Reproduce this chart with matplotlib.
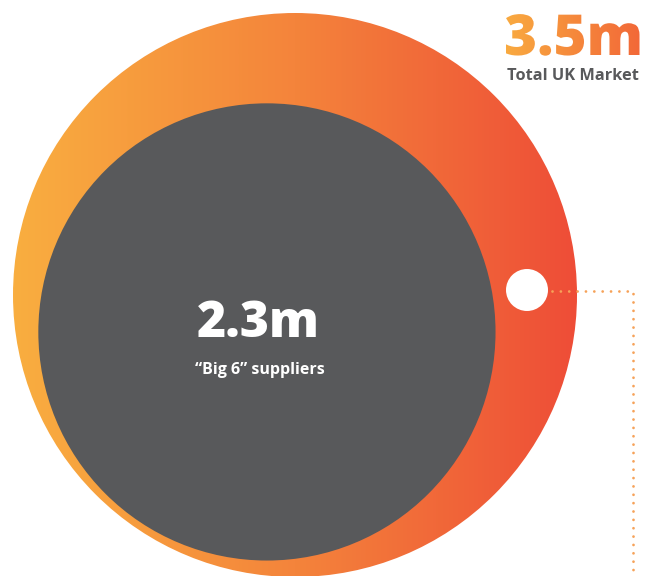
import numpy as np
import matplotlib
matplotlib.use("Agg")
import matplotlib.pyplot as plt
from matplotlib.patches import Circle, PathPatch
from matplotlib.colors import LinearSegmentedColormap
from matplotlib.textpath import TextPath
from matplotlib.font_manager import FontProperties
from matplotlib.transforms import Affine2D

# Customer accounts (millions)
segments = ["Total UK Market", "\u201cBig 6\u201d suppliers"]
accounts_m = [3.5, 2.3]
value_labels = ["3.5m", "2.3m"]

W, H = 652, 576
fig = plt.figure(figsize=(W / 100, H / 100), dpi=100)
ax = fig.add_axes([0, 0, 1, 1])
ax.set_xlim(0, W)
ax.set_ylim(H, 0)
ax.set_aspect("equal")
ax.axis("off")

ORANGE_L = "#F9AE40"
ORANGE_R = "#EE4D37"
GREY = "#58595B"
warm = LinearSegmentedColormap.from_list("warm", [ORANGE_L, "#F4843B", ORANGE_R])

# circle areas proportional to the account counts
scale = 282 / np.sqrt(accounts_m[0])
r_outer = scale * np.sqrt(accounts_m[0])
r_inner = scale * np.sqrt(accounts_m[1])

cx, cy = 295, 295
outer = Circle((cx, cy), r_outer, facecolor="none", edgecolor="none")
ax.add_patch(outer)
grad = np.linspace(0, 1, 512).reshape(1, -1)
im = ax.imshow(grad, cmap=warm, aspect="auto", interpolation="bilinear",
               extent=[cx - r_outer, cx + r_outer, cy + r_outer, cy - r_outer], zorder=1)
im.set_clip_path(outer)

# inner circle nested toward the lower left
d = np.array([-0.605, 0.796])
off = r_outer - r_inner - 7
icx, icy = cx + d[0] * off, cy + d[1] * off
ax.add_patch(Circle((icx, icy), r_inner, facecolor=GREY, edgecolor="none", zorder=2))

# marker and dotted leader
ax.add_patch(Circle((527, 290), 21, facecolor="white", edgecolor="none", zorder=3))
ax.plot([552, 633, 633], [291, 291, H + 5], color="#F6A259", lw=2.0,
        linestyle=(0, (0.01, 3.0)), dash_capstyle="round", zorder=3)

# headline value with gradient fill
fp = FontProperties(family="Open Sans", weight="heavy")
tp = TextPath((0, 0), value_labels[0], size=56.5, prop=fp)
bb = tp.get_extents()
x0, base = 506, 55
tr = Affine2D().translate(-bb.x0, 0).scale(1, -1).translate(x0, base)
tpath = tr.transform_path(tp)
tpatch = PathPatch(tpath, facecolor="none", edgecolor="none")
ax.add_patch(tpatch)
tb = tpath.get_extents()
tim = ax.imshow(grad, cmap=LinearSegmentedColormap.from_list("t", ["#F9AA40", "#F26838"]),
                aspect="auto", interpolation="bilinear",
                extent=[tb.x0, tb.x1, tb.y1, tb.y0], zorder=4)
tim.set_clip_path(tpatch)
ax.set_xlim(0, W)
ax.set_ylim(H, 0)

ax.text(572.5, 76, segments[0], ha="center", va="center", fontsize=11.8,
        fontfamily="Open Sans", fontweight="bold", color=GREY, zorder=4)

ax.text(258, 324, value_labels[1], ha="center", va="center", fontsize=36,
        fontfamily="Open Sans", fontweight="heavy", color="white", zorder=4)
ax.text(260, 370, segments[1], ha="center", va="center", fontsize=11.5,
        fontfamily="Open Sans", fontweight="bold", color="white", zorder=4)

fig.savefig("out.png", dpi=100, facecolor="white")
